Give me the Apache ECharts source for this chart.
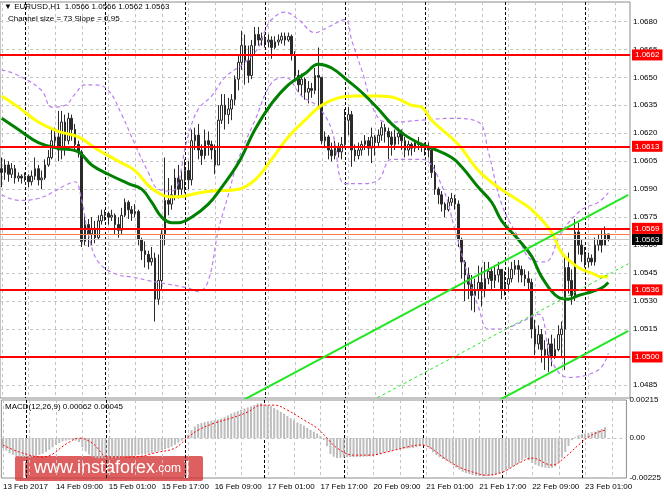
<!DOCTYPE html>
<html><head><meta charset="utf-8">
<script src="https://cdn.jsdelivr.net/npm/echarts@6/dist/echarts.min.js"></script>
<style>html,body{margin:0;padding:0;background:#fff}#c{width:664px;height:498px}</style>
</head><body><div id="c"></div>
<script>
// ---------- data ----------
const firstOpen = 1.0601;
const closes = [
1.0599,1.0603,1.0598,1.0601,1.0596,1.0597,1.0596,1.0597,1.0594,1.0597,
1.0601,1.0595,1.0596,1.0603,1.0607,1.0616,1.0618,1.0611,1.0626,1.0616,
1.0628,1.0622,1.0614,1.0610,1.0562,1.0571,1.0566,1.0569,1.0564,1.0573,
1.0576,1.0577,1.0575,1.0576,1.0571,1.0568,1.0576,1.0583,1.0579,1.0577,
1.0578,1.0563,1.0557,1.0555,1.0551,1.0553,1.0531,1.0541,1.0566,1.0584,
1.0582,1.0587,1.0596,1.0590,1.0595,1.0600,1.0595,1.0616,1.0619,1.0611,
1.0608,1.0616,1.0614,1.0611,1.0603,1.0627,1.0635,1.0630,1.0633,1.0638,
1.0649,1.0658,1.0667,1.0659,1.0651,1.0667,1.0673,1.0670,1.0671,1.0669,
1.0670,1.0666,1.0669,1.0670,1.0672,1.0670,1.0672,1.0662,1.0651,1.0646,
1.0649,1.0642,1.0644,1.0643,1.0651,1.0650,1.0616,1.0618,1.0611,1.0608,
1.0612,1.0610,1.0614,1.0627,1.0630,1.0611,1.0608,1.0611,1.0614,1.0616,
1.0612,1.0618,1.0615,1.0619,1.0623,1.0621,1.0618,1.0614,1.0618,1.0620,
1.0616,1.0611,1.0614,1.0612,1.0615,1.0614,1.0613,1.0612,1.0611,1.0599,
1.0590,1.0587,1.0582,1.0579,1.0583,1.0585,1.0582,1.0563,1.0551,1.0544,
1.0539,1.0533,1.0536,1.0540,1.0536,1.0542,1.0546,1.0541,1.0544,1.0547,
1.0536,1.0539,1.0542,1.0547,1.0549,1.0547,1.0544,1.0542,1.0540,1.0515,
1.0507,1.0512,1.0504,1.0501,1.0507,1.0500,1.0504,1.0512,1.0515,1.0548,
1.0541,1.0533,1.0567,1.0560,1.0555,1.0551,1.0553,1.0551,1.0560,1.0563,
1.0560,1.0566,1.0563];
const highs = [
1.0607,1.0606,1.0605,1.0604,1.0603,1.0599,1.0598,1.0599,1.0598,1.0600,
1.0607,1.0603,1.0600,1.0606,1.0611,1.0623,1.0623,1.0632,1.0632,1.0630,
1.0631,1.0630,1.0625,1.0616,1.0611,1.0576,1.0574,1.0575,1.0573,1.0576,
1.0579,1.0579,1.0578,1.0579,1.0577,1.0575,1.0580,1.0585,1.0584,1.0581,
1.0582,1.0579,1.0564,1.0562,1.0557,1.0559,1.0556,1.0555,1.0568,1.0607,
1.0596,1.0592,1.0601,1.0603,1.0600,1.0606,1.0605,1.0622,1.0623,1.0625,
1.0614,1.0622,1.0621,1.0616,1.0614,1.0635,1.0641,1.0641,1.0639,1.0641,
1.0651,1.0662,1.0675,1.0673,1.0667,1.0670,1.0677,1.0677,1.0674,1.0673,
1.0673,1.0672,1.0672,1.0673,1.0674,1.0674,1.0674,1.0673,1.0664,1.0654,
1.0652,1.0650,1.0648,1.0647,1.0655,1.0666,1.0650,1.0621,1.0619,1.0615,
1.0616,1.0615,1.0618,1.0633,1.0634,1.0632,1.0614,1.0615,1.0616,1.0619,
1.0618,1.0623,1.0619,1.0622,1.0626,1.0625,1.0623,1.0621,1.0622,1.0623,
1.0622,1.0618,1.0616,1.0615,1.0616,1.0618,1.0615,1.0615,1.0615,1.0612,
1.0603,1.0591,1.0589,1.0583,1.0586,1.0588,1.0587,1.0584,1.0564,1.0552,
1.0548,1.0544,1.0542,1.0549,1.0548,1.0551,1.0551,1.0548,1.0549,1.0551,
1.0547,1.0546,1.0548,1.0551,1.0552,1.0552,1.0549,1.0547,1.0546,1.0542,
1.0520,1.0517,1.0515,1.0509,1.0510,1.0512,1.0510,1.0517,1.0519,1.0555,
1.0556,1.0547,1.0574,1.0572,1.0563,1.0559,1.0556,1.0555,1.0564,1.0566,
1.0568,1.0570,1.0566];
const lows = [
1.0591,1.0595,1.0594,1.0596,1.0593,1.0594,1.0593,1.0594,1.0591,1.0592,
1.0595,1.0592,1.0590,1.0595,1.0602,1.0606,1.0613,1.0605,1.0606,1.0608,
1.0614,1.0616,1.0610,1.0607,1.0559,1.0560,1.0559,1.0560,1.0561,1.0563,
1.0571,1.0573,1.0571,1.0573,1.0566,1.0564,1.0566,1.0575,1.0574,1.0573,
1.0575,1.0560,1.0552,1.0548,1.0547,1.0549,1.0519,1.0528,1.0536,1.0560,
1.0576,1.0579,1.0584,1.0585,1.0587,1.0588,1.0590,1.0592,1.0611,1.0606,
1.0603,1.0606,1.0608,1.0606,1.0598,1.0603,1.0625,1.0622,1.0625,1.0627,
1.0635,1.0643,1.0654,1.0646,1.0647,1.0649,1.0662,1.0667,1.0667,1.0666,
1.0666,1.0660,1.0665,1.0667,1.0668,1.0667,1.0669,1.0659,1.0648,1.0642,
1.0640,1.0638,1.0636,1.0639,1.0641,1.0634,1.0614,1.0612,1.0606,1.0605,
1.0606,1.0607,1.0606,1.0612,1.0619,1.0602,1.0605,1.0606,1.0608,1.0611,
1.0608,1.0604,1.0608,1.0612,1.0616,1.0615,1.0606,1.0608,1.0611,1.0614,
1.0611,1.0607,1.0608,1.0608,1.0610,1.0611,1.0610,1.0608,1.0607,1.0596,
1.0587,1.0582,1.0578,1.0575,1.0578,1.0581,1.0579,1.0559,1.0542,1.0530,
1.0531,1.0525,1.0524,1.0531,1.0527,1.0532,1.0539,1.0536,1.0537,1.0540,
1.0531,1.0533,1.0535,1.0540,1.0544,1.0540,1.0540,1.0538,1.0536,1.0510,
1.0501,1.0504,1.0497,1.0493,1.0492,1.0495,1.0499,1.0503,1.0500,1.0493,
1.0534,1.0528,1.0530,1.0555,1.0551,1.0548,1.0548,1.0549,1.0549,1.0557,
1.0556,1.0560,1.0562];

// moving averages: [bar index, price]
const maYellow = [[0,1.0640],[5,1.0634],[11,1.0626],[17,1.0621],[23,1.0618],[29,1.0611],[35,1.0605],[40,1.0600],[44,1.0592],[47,1.0588],[50,1.0586],[53,1.0586],[59,1.0588],[63,1.0589],[71,1.0590],[76,1.0595],[81,1.0606],[86,1.0618],[91,1.0627],[96,1.0635],[101,1.0639],[106,1.0640],[113,1.0640],[118,1.0639],[123,1.0635],[126,1.0634],[129,1.0627],[137,1.0614],[143,1.0600],[149,1.0591],[155,1.0584],[159,1.0579],[165,1.0567],[168,1.0556],[173,1.0548],[177,1.0545],[180,1.0543],[182,1.0543]];
const maGreen = [[0,1.0628],[5,1.0622],[11,1.0615],[17,1.0612],[23,1.0610],[27,1.0603],[32,1.0598],[38,1.0593],[42,1.0590],[45,1.0583],[48,1.0575],[51,1.0572],[53,1.0572],[57,1.0575],[62,1.0582],[66,1.0591],[71,1.0604],[76,1.0622],[81,1.0636],[86,1.0646],[91,1.0652],[95,1.0657],[99,1.0655],[104,1.0648],[108,1.0642],[113,1.0633],[117,1.0625],[121,1.0619],[126,1.0614],[129,1.0612],[135,1.0607],[138,1.0602],[143,1.0591],[147,1.0583],[150,1.0573],[155,1.0563],[159,1.0554],[162,1.0543],[167,1.0532],[170,1.0531],[173,1.0533],[177,1.0535],[180,1.0537],[182,1.0540]];
// dashed envelope bands: [bar index, price]
const bandUpper = [[0,1.0654],[5,1.0651],[12,1.0643],[15,1.0634],[19,1.0635],[22,1.0641],[25,1.0646],[28,1.0646],[32,1.0643],[36,1.0630],[40,1.0614],[44,1.0599],[47,1.0590],[51,1.0589],[56,1.0619],[59,1.0633],[63,1.0640],[67,1.0650],[73,1.0658],[77,1.0666],[79,1.0675],[81,1.0681],[85,1.0685],[89,1.0681],[94,1.0674],[98,1.0677],[103,1.0681],[105,1.0670],[108,1.0654],[113,1.0628],[117,1.0626],[126,1.0627],[135,1.0628],[143,1.0626],[146,1.0610],[150,1.0582],[155,1.0564],[159,1.0552],[163,1.0551],[168,1.0567],[174,1.0579],[179,1.0583],[182,1.0588]];
const bandLower = [[0,1.0587],[5,1.0584],[11,1.0585],[16,1.0589],[19,1.0592],[22,1.0594],[24,1.0584],[26,1.0566],[29,1.0551],[35,1.0544],[39,1.0543],[44,1.0541],[50,1.0539],[56,1.0537],[59,1.0535],[62,1.0541],[65,1.0568],[68,1.0587],[71,1.0606],[76,1.0627],[81,1.0647],[85,1.0650],[90,1.0640],[95,1.0634],[99,1.0622],[103,1.0593],[108,1.0593],[113,1.0595],[117,1.0606],[126,1.0606],[132,1.0592],[136,1.0568],[140,1.0543],[143,1.0527],[146,1.0515],[150,1.0515],[155,1.0518],[161,1.0523],[165,1.0498],[170,1.0489],[179,1.0493],[182,1.0502]];

// MACD
const macdHist = [
-0.00056,-0.00070,-0.00085,-0.00094,-0.00100,-0.00105,-0.00107,-0.00108,-0.00110,-0.00106,
-0.00100,-0.00095,-0.00088,-0.00078,-0.00066,-0.00052,-0.00038,-0.00028,-0.00018,-0.00014,
-0.00010,-0.00010,-0.00014,-0.00022,-0.00052,-0.00075,-0.00092,-0.00104,-0.00112,-0.00114,
-0.00112,-0.00113,-0.00114,-0.00112,-0.00113,-0.00113,-0.00110,-0.00106,-0.00103,-0.00100,
-0.00096,-0.00094,-0.00092,-0.00090,-0.00088,-0.00085,-0.00080,-0.00074,-0.00068,-0.00062,
-0.00056,-0.00048,-0.00038,-0.00026,-0.00014,-0.00002,0.00020,0.00045,0.00065,0.00080,
0.00085,0.00090,0.00094,0.00098,0.00101,0.00104,0.00110,0.00118,0.00128,0.00138,
0.00145,0.00152,0.00160,0.00167,0.00173,0.00180,0.00187,0.00195,0.00197,0.00190,
0.00185,0.00180,0.00170,0.00160,0.00148,0.00138,0.00125,0.00112,0.00100,0.00088,
0.00080,0.00070,0.00058,0.00046,0.00036,0.00026,0.00012,-0.00010,-0.00045,-0.00090,
-0.00105,-0.00113,-0.00112,-0.00108,-0.00107,-0.00107,-0.00108,-0.00107,-0.00106,-0.00105,
-0.00104,-0.00103,-0.00100,-0.00096,-0.00090,-0.00084,-0.00078,-0.00072,-0.00068,-0.00066,
-0.00063,-0.00060,-0.00058,-0.00057,-0.00056,-0.00052,-0.00046,-0.00040,-0.00042,-0.00060,
-0.00080,-0.00095,-0.00108,-0.00118,-0.00126,-0.00135,-0.00150,-0.00165,-0.00178,-0.00190,
-0.00197,-0.00203,-0.00208,-0.00212,-0.00214,-0.00215,-0.00214,-0.00212,-0.00210,-0.00205,
-0.00198,-0.00192,-0.00182,-0.00172,-0.00162,-0.00152,-0.00140,-0.00125,-0.00113,-0.00125,
-0.00140,-0.00150,-0.00158,-0.00164,-0.00167,-0.00169,-0.00168,-0.00160,-0.00135,-0.00110,
-0.00079,-0.00045,-0.00011,0.00005,0.00017,0.00022,0.00026,0.00030,0.00033,0.00036,
0.00045,0.00052,0.00062];
const macdSignal = [[0,-0.00039],[5,-0.00079],[12,-0.00107],[20,-0.00023],[23,0.00000],[27,-0.00028],[32,-0.00107],[39,-0.00107],[47,-0.00079],[52,-0.00056],[56,0.00006],[59,0.00045],[64,0.00085],[69,0.00113],[74,0.00147],[78,0.00186],[82,0.00186],[86,0.00158],[91,0.00102],[95,0.00056],[98,0.00000],[101,-0.00056],[106,-0.00096],[111,-0.00096],[116,-0.00079],[122,-0.00051],[126,-0.00039],[129,-0.00051],[133,-0.00107],[138,-0.00164],[143,-0.00197],[146,-0.00209],[151,-0.00192],[156,-0.00141],[160,-0.00113],[166,-0.00152],[170,-0.00107],[174,-0.00039],[178,0.00017],[182,0.00045]];

// horizontal levels
const levels = [1.0662, 1.0613, 1.0569, 1.0536, 1.0500];
const askLevel = 1.0566;
const bidLevel = 1.0563;
// regression channel: [bar index, price]
const channelUpper = [[60,1.0465],[188,1.0587]];
const channelMiddle = [[100,1.0466],[188,1.0550]];
const channelLower = [[140,1.0468],[188,1.0514]];

// ticks
const priceTicks = [1.0485,1.0515,1.0530,1.0545,1.0560,1.0575,1.0590,1.0605,1.0620,1.0635,1.0650,1.0665,1.0680];
const macdTicks = [0.00215, 0, -0.00225];
const tickLabels = ['13 Feb 2017','14 Feb 09:00','15 Feb 01:00','15 Feb 17:00','16 Feb 09:00','17 Feb 01:00','17 Feb 17:00','20 Feb 09:00','21 Feb 01:00','21 Feb 17:00','22 Feb 09:00','23 Feb 01:00'];

// ---------- build ----------
const N = 189;
const months = ['Jan','Feb','Mar','Apr','May','Jun','Jul','Aug','Sep','Oct','Nov','Dec'];
const cats = [];
const dayStarts = [];
let t = Date.UTC(2017,1,13,17);
while (cats.length < N) {
  const d = new Date(t);
  const wd = d.getUTCDay();
  if (wd !== 0 && wd !== 6) {
    if (d.getUTCHours() === 0) dayStarts.push(cats.length);
    cats.push(d.getUTCDate() + ' ' + months[d.getUTCMonth()] + ' ' + String(d.getUTCHours()).padStart(2,'0') + ':00');
  }
  t += 3600000;
}
const candles = closes.map((c,i) => [i === 0 ? firstOpen : closes[i-1], c, lows[i], highs[i]]);
const vGridIdx = [];
for (let i = 0; i < N; i += 8) vGridIdx.push(i);

const FONT = 'Liberation Sans';
const priceMin = 1.04780, priceMax = 1.06904;
const GRAY = '#c4c4c4';
const BAND = '#b97ff0';

// grid-line helpers drawn with the axes' own scales
const hLines = (xi, values, stroke, dash) => ({
  type:'custom', xAxisIndex:xi, yAxisIndex:xi, z:1, silent:true, clip:false,
  data: values.map(v => [0, v]),
  renderItem:(params, api) => {
    const cs = params.coordSys;
    const y = Math.round(api.coord([0, api.value(1)])[1]) + 0.5;
    return {type:'line', shape:{x1:cs.x, y1:y, x2:cs.x + cs.width, y2:y}, style:{stroke, lineWidth:1, lineDash:dash}};
  }
});
const vLines = (xi, idx, yRef, stroke, dash) => ({
  type:'custom', xAxisIndex:xi, yAxisIndex:xi, z:1, silent:true, clip:false,
  data: idx.map(i => [i, yRef]),
  renderItem:(params, api) => {
    const cs = params.coordSys;
    const x = Math.round(api.coord([api.value(0), api.value(1)])[0]) + 0.5;
    return {type:'line', shape:{x1:x, y1:cs.y, x2:x, y2:cs.y + cs.height}, style:{stroke, lineWidth:1, lineDash:dash}};
  }
});

const chart = echarts.init(document.getElementById('c'));
const lvlLabel = (bg, fg) => ({show:true, position:'end', distance:2, formatter: p => Number(p.value).toFixed(4),
  backgroundColor:bg, color:fg, fontSize:8, fontFamily:FONT, padding:[2,3,1,3], borderRadius:0});

const option = {
  animation:false,
  textStyle:{fontFamily:FONT},
  grid:[
    {left:0, top:2, width:630, height:396, show:true, borderColor:'#8c8c8c', borderWidth:1, backgroundColor:'#fff'},
    {left:0, top:400, width:630, height:78, show:true, borderColor:'#8c8c8c', borderWidth:1, backgroundColor:'#fff'}
  ],
  xAxis:[
    {type:'category', gridIndex:0, data:cats, boundaryGap:true, axisLine:{show:false}, axisTick:{show:false}, axisLabel:{show:false}, splitLine:{show:false}},
    {type:'category', gridIndex:1, data:cats, boundaryGap:true, axisLine:{show:false}, axisTick:{show:false}, splitLine:{show:false},
      axisLabel:{interval:(i)=> i % 16 === 0, formatter:(v,i)=> tickLabels[i/16] || '', align:'left', fontSize:8, color:'#000', margin:5, fontFamily:FONT}}
  ],
  yAxis:[
    {type:'value', gridIndex:0, position:'right', min:priceMin, max:priceMax, axisLine:{show:false}, axisTick:{show:false}, splitLine:{show:false},
      axisLabel:{customValues:priceTicks, formatter:v=>v.toFixed(4), fontSize:8, color:'#000', margin:3, fontFamily:FONT}},
    {type:'value', gridIndex:1, position:'right', min:-0.00225, max:0.00215, axisLine:{show:false}, axisTick:{show:false}, splitLine:{show:false},
      axisLabel:{customValues:macdTicks, formatter:v=> v === 0 ? '0.00' : v.toFixed(5), fontSize:8, color:'#000', margin:3, fontFamily:FONT}}
  ],
  graphic:[
    {type:'text', left:4, top:3, z:100, style:{text:'\u25BC EURUSD,H1  1.0566 1.0566 1.0562 1.0563', fontSize:8, fill:'#000', fontFamily:FONT}},
    {type:'text', left:8, top:15, z:100, style:{text:'Channel size = 73 Slope = 0.95', fontSize:8, fill:'#000', fontFamily:FONT}},
    {type:'text', left:5, top:403, z:100, style:{text:'MACD(12,26,9) 0.00062 0.00045', fontSize:8, fill:'#000', fontFamily:FONT}},
    {type:'group', left:15, top:456, z:100, children:[
      {type:'rect', shape:{x:0,y:0,width:188,height:25,r:2}, style:{fill:'rgba(212,50,50,0.78)'}},
      {type:'text', x:7, y:3, style:{text:'{b|[}  {w|www.instaforex}{c|.com} {b|]}', fill:'#fff',
        rich:{b:{fontSize:19, fill:'#fff', fontFamily:FONT}, w:{fontSize:18, fill:'#fff', fontFamily:FONT}, c:{fontSize:12, fill:'#fff', fontFamily:FONT}}}}
    ]}
  ],
  series:[
    hLines(0, priceTicks.concat([1.0500]), GRAY, [3,3]),
    vLines(0, vGridIdx, priceMin, GRAY, [3,3]),
    vLines(0, dayStarts, priceMin, '#000', [3,2]),
    {type:'candlestick', name:'EURUSD', xAxisIndex:0, yAxisIndex:0, data:candles, barWidth:2, z:2,
      itemStyle:{color:'#ffffff', color0:'#2a2a2a', borderColor:'#2a2a2a', borderColor0:'#2a2a2a', borderWidth:1}},
    {type:'line', name:'Band upper', xAxisIndex:0, yAxisIndex:0, data:bandUpper, smooth:0.4, showSymbol:false, z:3,
      lineStyle:{color:BAND, width:1.2, type:[4,3]}},
    {type:'line', name:'Band lower', xAxisIndex:0, yAxisIndex:0, data:bandLower, smooth:0.4, showSymbol:false, z:3,
      lineStyle:{color:BAND, width:1.2, type:[4,3]}},
    {type:'line', name:'MA yellow', xAxisIndex:0, yAxisIndex:0, data:maYellow, smooth:0.4, showSymbol:false, z:4,
      lineStyle:{color:'#ffff00', width:3}},
    {type:'line', name:'MA green', xAxisIndex:0, yAxisIndex:0, data:maGreen, smooth:0.4, showSymbol:false, z:4,
      lineStyle:{color:'#008000', width:3}},
    {type:'line', name:'levels', xAxisIndex:0, yAxisIndex:0, data:[], z:6,
      markLine:{silent:true, symbol:['none','none'], animation:false, precision:6,
        data: [{yAxis:askLevel, lineStyle:{color:'#ff7f3f', width:1, type:'solid'}, label:lvlLabel('#ff8c5a','#fff')}]
          .concat(levels.map(v=>({yAxis:v, lineStyle:{color:'#ff0000', width:2, type:'solid'}, label:lvlLabel('#ff0000','#fff')})))
          .concat([{yAxis:bidLevel, lineStyle:{color:'#c8c8c8', width:1, type:'solid'}, label:lvlLabel('#000000','#fff')}])}},
    {type:'line', name:'channel upper', xAxisIndex:0, yAxisIndex:0, data:channelUpper, showSymbol:false, z:7, lineStyle:{color:'#22e622', width:2}},
    {type:'line', name:'channel middle', xAxisIndex:0, yAxisIndex:0, data:channelMiddle, showSymbol:false, z:7, lineStyle:{color:'#22e622', width:1, type:[3,3]}},
    {type:'line', name:'channel lower', xAxisIndex:0, yAxisIndex:0, data:channelLower, showSymbol:false, z:7, lineStyle:{color:'#22e622', width:2}},
    // MACD panel
    hLines(1, [0], GRAY, [3,3]),
    vLines(1, vGridIdx, 0, GRAY, [3,3]),
    vLines(1, dayStarts, 0, '#000', [3,2]),
    {type:'bar', name:'MACD', xAxisIndex:1, yAxisIndex:1, data:macdHist, barWidth:2, z:2, itemStyle:{color:'#bdbdbd'}},
    {type:'line', name:'Signal', xAxisIndex:1, yAxisIndex:1, data:macdSignal, smooth:0.4, showSymbol:false, z:3,
      lineStyle:{color:'#ff0000', width:1, type:[2,2]}}
  ]
};
chart.setOption(option);
</script>
</body></html>
